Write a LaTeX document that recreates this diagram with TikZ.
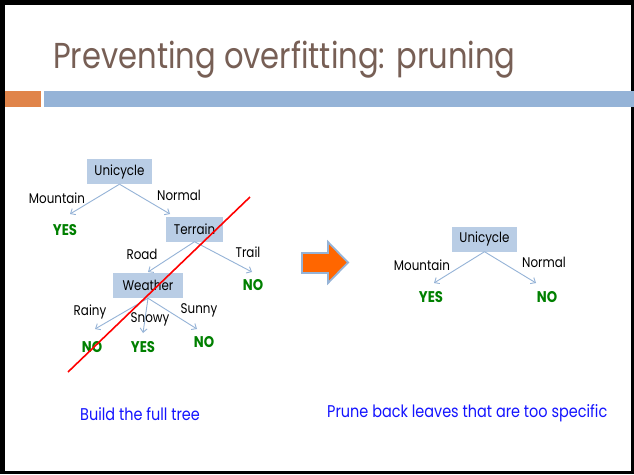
\documentclass[tikz,border=0pt]{standalone}
\usepackage{fontspec}
\setmainfont[FakeStretch=0.85]{Poppins}
\usetikzlibrary{arrows.meta}
\definecolor{titlebrown}{RGB}{119,95,85}
\definecolor{barorange}{RGB}{224,132,74}
\definecolor{barblue}{RGB}{149,179,215}
\definecolor{boxfill}{RGB}{185,205,229}
\definecolor{leafgreen}{RGB}{0,128,0}
\definecolor{captionblue}{RGB}{20,20,255}
\definecolor{arrowfill}{RGB}{255,102,0}
\tikzset{
  attr/.style={fill=boxfill, inner sep=0pt, minimum height=25pt, font=\fontsize{14}{16}\selectfont},
  branch/.style={font=\fontsize{14}{16}\selectfont, inner sep=0pt},
  leaf/.style={font=\fontsize{15.5}{17}\selectfont\bfseries, text=leafgreen, inner sep=0pt},
  edge/.style={draw=barblue, line width=0.9pt, -{Straight Barb[length=4pt,width=7pt]}},
  caption/.style={font=\fontsize{17}{19}\selectfont, text=captionblue, inner sep=0pt}
}
\begin{document}
\begin{tikzpicture}[x=1pt,y=-1pt]
\useasboundingbox (0,0) rectangle (634,474);
% slide frame
\fill[black] (0,0) rectangle (634,474);
\fill[white] (5,5) rectangle (631,471);
% title and header bars
\node[anchor=base west, inner sep=0pt, text=titlebrown, font=\fontsize{36}{40}\selectfont] (title) at (53,68) {Preventing overfitting: pruning};
\fill[barorange] (5,91) rectangle (41,107);
\fill[barblue] (44,91) rectangle (634,107);

% full tree
\node[attr, minimum width=65pt] (u1) at (119.5,171.5) {Unicycle};
\node[attr, minimum width=57pt] (t1) at (194.5,229) {Terrain};
\node[attr, minimum width=70pt] (w1) at (148,285.5) {Weather};
\node[leaf] (yes1) at (65,230) {YES};
\node[leaf] (no1) at (253,285) {NO};
\node[leaf] (no2) at (92,347) {NO};
\node[leaf] (yes2) at (143,347) {YES};
\node[leaf] (no3) at (204,342) {NO};
\coordinate (yes1tip) at (70,214);
\coordinate (t1tip) at (170,214);
\coordinate (w1tip) at (148,272);
\coordinate (no1tip) at (252,272);
\coordinate (no2tip) at (95,329);
\coordinate (yes2tip) at (143,333);
\coordinate (no3tip) at (197,329);
\draw[edge] (u1.south) -- (yes1tip);
\draw[edge] (u1.south) -- (t1tip);
\draw[edge] (t1.south) -- (w1tip);
\draw[edge] (t1.south) -- (no1tip);
\draw[edge] (w1.south) -- (no2tip);
\draw[edge] (w1.south) -- (yes2tip);
\draw[edge] (w1.south) -- (no3tip);
\node[branch] (lmount1) at (57,198) {Mountain};
\node[branch] (lnorm1) at (179,195) {Normal};
\node[branch] (lroad) at (142,254) {Road};
\node[branch] (ltrail) at (248,252) {Trail};
\node[branch] (lrainy) at (90,312) {Rainy};
\node[branch] (lsnowy) at (150,319) {Snowy};
\node[branch] (lsunny) at (199,310) {Sunny};
% cut line
\coordinate (cutA) at (250,197);
\coordinate (cutB) at (68,372);
\draw[red, line width=1.6pt] (cutA) -- (cutB);

% block arrow
\draw[barblue, line width=1.8pt, fill=arrowfill, line join=miter]
  (302,253) -- (328,253) -- (328,242) -- (348,262.5) -- (328,283) -- (328,273) -- (302,273) -- cycle;

% pruned tree
\node[attr, minimum width=65pt] (u2) at (484.5,239) {Unicycle};
\node[leaf] (yes3) at (431,297) {YES};
\node[leaf] (no4) at (547,297) {NO};
\coordinate (yes3tip) at (434,283);
\coordinate (no4tip) at (536,283);
\draw[edge] (u2.south) -- (yes3tip);
\draw[edge] (u2.south) -- (no4tip);
\node[branch] (lmount2) at (422,265) {Mountain};
\node[branch] (lnorm2) at (544,262) {Normal};

% captions
\node[caption, anchor=west] (cap1) at (80,414) {Build the full tree};
\node[caption, anchor=west] (cap2) at (327,413) {Prune back leaves that are too specific};
\end{tikzpicture}
\end{document}
